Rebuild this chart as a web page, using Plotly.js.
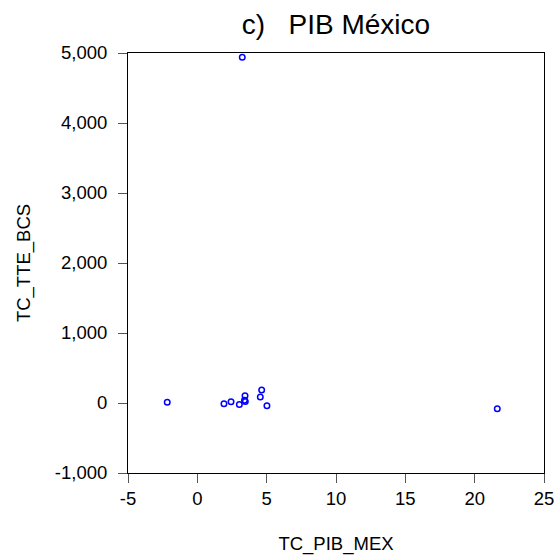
<!DOCTYPE html>
<html>
<head>
<meta charset="utf-8">
<script src="https://cdn.plot.ly/plotly-3.0.1.min.js"></script>
<style>html,body{margin:0;padding:0;background:#fff;}#chart{width:556px;height:556px;}</style>
</head>
<body>
<div id="chart"></div>
<script>
// Data
const tcPibMex = [-2.17, 1.92, 2.43, 3.03, 3.44, 3.40, 3.46, 4.64, 4.54, 5.02, 21.63, 3.24];
const tcTteBcs = [10, -10, 18, -20, 104, 40, 22, 185, 85, -39, -81, 4938];

const xTickVals = [-5, 0, 5, 10, 15, 20, 25];
const xTickText = ["-5", "0", "5", "10", "15", "20", "25"];
const yTickVals = [-1000, 0, 1000, 2000, 3000, 4000, 5000];
const yTickText = ["-1,000", "0", "1,000", "2,000", "3,000", "4,000", "5,000"];

const fam = "Liberation Sans, Arial, sans-serif";
const font = {family: fam, size: 18.5, color: "#000"};

const trace = {
  x: tcPibMex,
  y: tcTteBcs,
  type: "scatter",
  mode: "markers",
  marker: {symbol: "circle-open", size: 5.5, color: "#0000ff", line: {width: 1.5, color: "#0000ff"}},
  hoverinfo: "none"
};

const layout = {
  width: 556, height: 556,
  margin: {l: 128, r: 12, t: 53, b: 83},
  paper_bgcolor: "#fff", plot_bgcolor: "#fff",
  showlegend: false,
  font: font,
  title: {text: "c)   PIB México", font: {family: fam, size: 28, color: "#000"}, x: 0.5, xref: "paper", y: 0.957, yref: "container", yanchor: "middle"},
  xaxis: {
    range: [-5, 25], tickmode: "array", tickvals: xTickVals, ticktext: xTickText,
    showgrid: false, zeroline: false, showline: true, linecolor: "#000", linewidth: 1, mirror: true,
    ticks: "outside", ticklen: 9, tickcolor: "#555", tickwidth: 1, ticklabelstandoff: 0,
    tickfont: font,
    title: {text: "TC_PIB_MEX", font: font, standoff: 28}
  },
  yaxis: {
    range: [-1000, 5000], tickmode: "array", tickvals: yTickVals, ticktext: yTickText,
    showgrid: false, zeroline: false, showline: true, linecolor: "#000", linewidth: 1, mirror: true,
    ticks: "outside", ticklen: 9, tickcolor: "#555", tickwidth: 1, ticklabelstandoff: 7,
    tickfont: font,
    title: {text: "TC_TTE_BCS", font: font, standoff: 19}
  }
};

Plotly.newPlot("chart", [trace], layout, {staticPlot: true, displayModeBar: false});
</script>
</body>
</html>
